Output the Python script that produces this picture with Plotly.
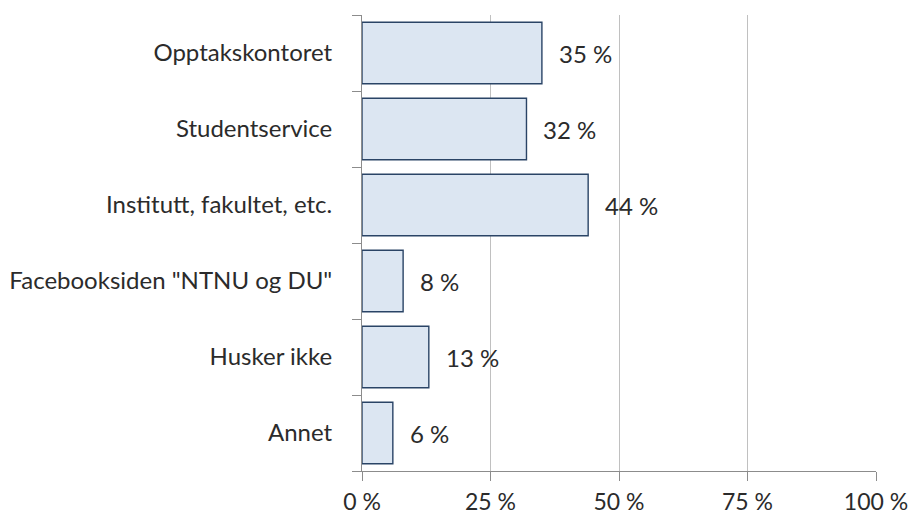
import plotly.graph_objects as go

categories = ["Opptakskontoret", "Studentservice", "Institutt, fakultet, etc.",
              "Facebooksiden \"NTNU og DU\"", "Husker ikke", "Annet"]
values = [35, 32, 44, 8, 13, 6]
x_ticks = [0, 25, 50, 75, 100]

FONT = "Lato"
FONT_SIZE = 24
TEXT_COLOR = "#2b2b2b"

fig = go.Figure(go.Bar(
    y=categories,
    x=values,
    orientation="h",
    width=0.81,
    marker=dict(color="#dce6f2", line=dict(color="#2a4466", width=1.4)),
    hoverinfo="skip",
))

# value labels just past the end of each bar
for cat, val in zip(categories, values):
    fig.add_annotation(
        x=val, y=cat, text=f"{val} %", showarrow=False,
        xanchor="left", xshift=15,
        font=dict(family=FONT, size=FONT_SIZE, color=TEXT_COLOR),
    )

fig.update_layout(
    width=913, height=518,
    margin=dict(l=362, r=37, t=15, b=47, autoexpand=False),
    paper_bgcolor="white", plot_bgcolor="white",
    showlegend=False,
    font=dict(family=FONT, size=FONT_SIZE, color=TEXT_COLOR),
    xaxis=dict(
        range=[0, 100], tickvals=x_ticks, ticktext=[f"{t} %" for t in x_ticks],
        showgrid=True, gridcolor="#c0c0c0", gridwidth=1,
        showline=True, linecolor="#8c8c8c", linewidth=1,
        ticks="outside", ticklen=9, tickcolor="#8c8c8c",
        tickfont=dict(size=23), ticklabelstandoff=1,
        zeroline=False, fixedrange=True,
    ),
    yaxis=dict(
        categoryorder="array", categoryarray=categories[::-1],
        autorange=False, range=[-0.5, len(categories) - 0.5],
        showgrid=False, showline=True, linecolor="#8c8c8c", linewidth=1,
        ticks="outside", ticklen=9, tickcolor="#8c8c8c", tickson="boundaries",
        ticklabelstandoff=24, zeroline=False, fixedrange=True,
    ),
)

fig.write_html("out.html")
